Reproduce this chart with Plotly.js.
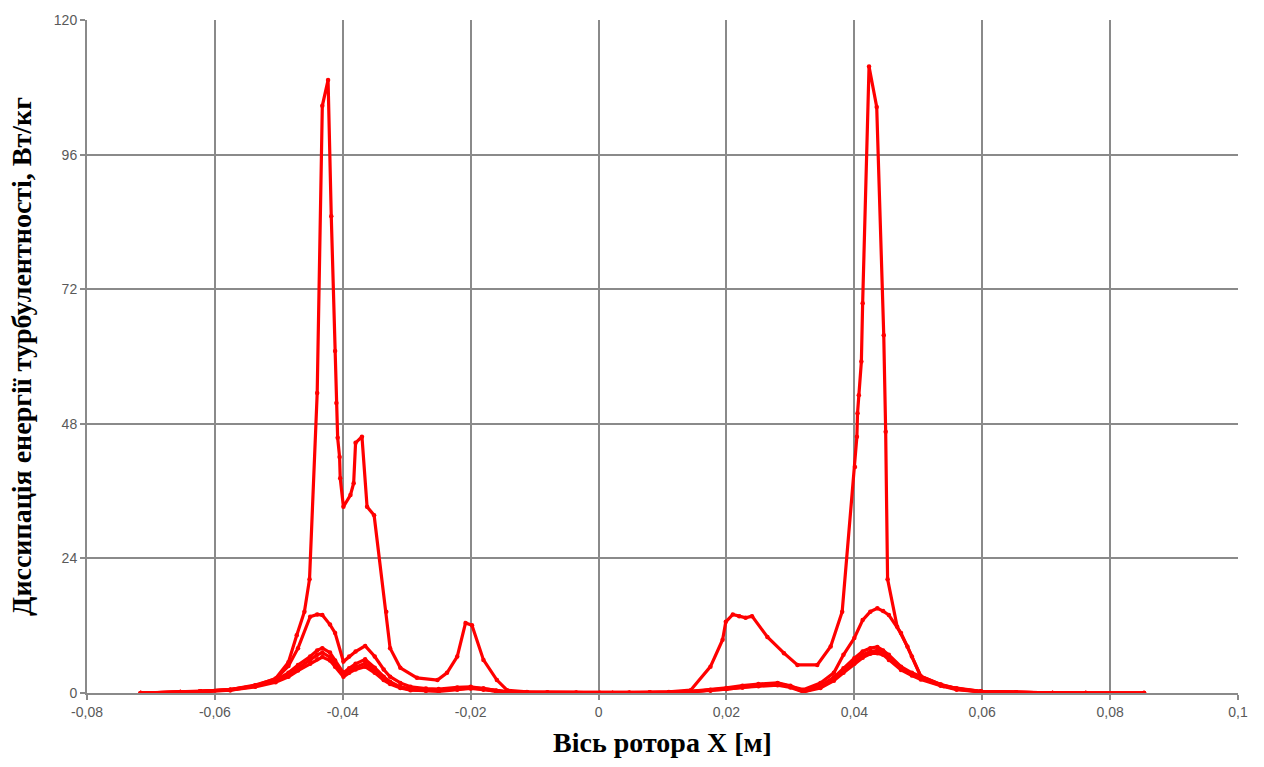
<!DOCTYPE html>
<html>
<head>
<meta charset="utf-8">
<script src="https://cdn.plot.ly/plotly-3.0.1.min.js"></script>
<style>html,body{margin:0;padding:0;background:#fff;}#chart{width:1264px;height:767px;}</style>
</head>
<body>
<div id="chart"></div>
<script>
// Main (highest) profile
const xBig = [-0.0716,-0.0654,-0.0623,-0.0576,-0.0537,-0.0505,-0.0485,-0.0472,-0.0460,-0.0452,-0.0440,-0.0432,-0.0423,-0.0418,-0.0412,-0.0410,-0.0408,-0.0405,-0.0404,-0.0399,-0.0388,-0.0383,-0.0380,-0.0370,-0.0362,-0.0351,-0.0332,-0.0326,-0.0310,-0.0284,-0.0252,-0.0237,-0.0221,-0.0208,-0.0198,-0.0180,-0.0159,-0.0143,-0.0112,-0.0080,-0.0035,0.0002,0.0022,0.0048,0.0080,0.0110,0.0144,0.0175,0.0194,0.0199,0.0210,0.0220,0.0230,0.0240,0.0264,0.0290,0.0311,0.0342,0.0363,0.0381,0.0401,0.0404,0.0405,0.0407,0.0411,0.0413,0.0423,0.0435,0.0446,0.0449,0.0452,0.0467,0.0483,0.0504,0.0540,0.0598,0.0653,0.0710,0.0762,0.0853];
const yBig = [0,0.2,0.3,0.6,1.3,2.6,5.5,10.3,14.5,20.3,53.5,104.7,109.3,85,61,51.7,45.5,42.1,38.3,33.2,35.3,37.4,44.6,45.7,33.2,31.7,14.5,8.0,4.5,2.7,2.3,3.6,6.5,12.5,12.1,5.9,2.3,0.5,0.2,0.1,0.1,0,0,0.1,0.1,0.2,0.5,4.7,9.5,12.7,14.0,13.7,13.4,13.7,10.0,7.1,5.0,5.0,8.3,14.5,40.3,45.7,49.9,53.1,59.1,69.5,111.7,104.5,63.8,46.6,20.3,11.8,8.3,2.9,1.2,0.3,0.1,0,0,0];

// Shared grid for the lower profiles
const xLow = [-0.0716,-0.0654,-0.0623,-0.0576,-0.0537,-0.0505,-0.0485,-0.0470,-0.0451,-0.0440,-0.0432,-0.0420,-0.0412,-0.0399,-0.0390,-0.0380,-0.0365,-0.0350,-0.0336,-0.0326,-0.0310,-0.0294,-0.0270,-0.0250,-0.0221,-0.0200,-0.0180,-0.0160,-0.0143,-0.0112,-0.0080,-0.0035,0.0002,0.0022,0.0048,0.0080,0.0110,0.0144,0.0175,0.0200,0.0225,0.0250,0.0280,0.0300,0.0320,0.0347,0.0368,0.0383,0.0400,0.0413,0.0425,0.0436,0.0445,0.0454,0.0473,0.0490,0.0504,0.0535,0.0560,0.0598,0.0653,0.0710,0.0762,0.0853];
const yMid = [0,0.2,0.3,0.6,1.4,2.5,4.8,8.0,13.6,14.0,13.9,12.2,10.7,5.6,6.5,7.4,8.4,6.5,4.2,2.9,1.8,1.1,0.8,0.7,1.0,1.1,0.8,0.4,0.2,0.1,0.1,0,0,0,0,0.1,0.1,0.3,0.5,0.7,1.0,1.3,1.7,1.2,0.6,1.8,3.6,6.8,9.8,13.0,14.5,15.1,14.6,13.9,10.7,6.5,3.0,1.5,0.8,0.3,0.1,0,0,0];
const yLowA = [0,0.2,0.3,0.6,1.3,2.3,3.6,5.0,6.5,7.6,8.0,7.2,5.8,3.6,4.4,5.2,6.0,4.5,2.9,2.0,1.1,0.7,0.5,0.5,0.8,1.0,0.8,0.4,0.2,0.1,0.1,0,0,0,0,0.1,0.1,0.3,0.6,0.9,1.3,1.6,1.8,1.3,0.3,1.3,2.8,4.4,6.2,7.4,8.0,8.2,7.6,6.8,4.7,3.6,2.9,1.5,0.8,0.2,0.1,0,0,0];
const yLowB = [0,0.2,0.3,0.5,1.2,2.1,3.2,4.4,5.8,6.8,7.2,6.4,5.2,3.2,3.9,4.6,5.3,4.0,2.6,1.8,1.0,0.6,0.4,0.4,0.7,0.9,0.7,0.3,0.2,0.1,0,0,0,0,0,0.1,0.1,0.2,0.5,0.8,1.1,1.4,1.6,1.2,0.2,1.1,2.5,4.0,5.6,6.8,7.4,7.6,7.2,6.3,4.4,3.3,2.6,1.4,0.7,0.2,0.1,0,0,0];
const yLowC = [0,0.1,0.2,0.5,1.1,1.9,2.9,4.0,5.2,6.0,6.4,5.8,4.7,2.9,3.6,4.2,4.7,3.6,2.3,1.6,0.9,0.5,0.4,0.3,0.6,0.8,0.6,0.3,0.1,0.1,0,0,0,0,0,0,0.1,0.2,0.4,0.7,1.0,1.2,1.4,1.0,0.2,0.9,2.2,3.6,5.2,6.3,7.0,7.1,6.8,5.9,4.1,3.1,2.4,1.3,0.6,0.2,0.1,0,0,0];

const xTickVals = [-0.08,-0.06,-0.04,-0.02,0,0.02,0.04,0.06,0.08,0.1];
const xTickText = ['-0,08','-0,06','-0,04','-0,02','0','0,02','0,04','0,06','0,08','0,1'];
const yTickVals = [0,24,48,72,96,120];
const yTickText = ['0','24','48','72','96','120'];

const red = '#ff0000';
function tr(x, y) {
  return {x: x, y: y, type: 'scatter', mode: 'lines+markers',
    line: {color: red, width: 3.2}, marker: {color: red, size: 4.5}, showlegend: false, hoverinfo: 'skip'};
}
const data = [tr(xLow, yLowC), tr(xLow, yLowB), tr(xLow, yLowA), tr(xLow, yMid), tr(xBig, yBig)];

const gridCol = '#8a8a8a';
const layout = {
  width: 1264, height: 767,
  margin: {l: 87, r: 26, t: 20, b: 74},
  paper_bgcolor: '#ffffff', plot_bgcolor: '#ffffff',
  showlegend: false,
  xaxis: {
    range: [-0.08, 0.1], tickmode: 'array', tickvals: xTickVals, ticktext: xTickText,
    showgrid: true, gridcolor: gridCol, gridwidth: 2,
    showline: true, linecolor: gridCol, linewidth: 2,
    zeroline: false, ticks: 'outside', ticklen: 5, tickcolor: gridCol, tickwidth: 2,
    tickfont: {family: 'Liberation Sans, Arial, sans-serif', size: 14, color: '#595959'},
    title: {text: 'Вісь ротора X [м]', standoff: 14,
      font: {family: 'Liberation Serif, Times New Roman, serif', size: 28, color: '#000000', weight: 'bold'}},
    automargin: false
  },
  yaxis: {
    range: [0, 120], tickmode: 'array', tickvals: yTickVals, ticktext: yTickText,
    showgrid: true, gridcolor: gridCol, gridwidth: 2,
    showline: true, linecolor: gridCol, linewidth: 2,
    zeroline: false, ticks: 'outside', ticklen: 5, tickcolor: gridCol, tickwidth: 2,
    tickfont: {family: 'Liberation Sans, Arial, sans-serif', size: 14, color: '#595959'},
    title: {text: 'Диссипація енергії турбулентності, Вт/кг', standoff: 14,
      font: {family: 'Liberation Serif, Times New Roman, serif', size: 28, color: '#000000', weight: 'bold'}},
    automargin: false
  }
};

Plotly.newPlot('chart', data, layout, {staticPlot: true, displayModeBar: false});
</script>
</body>
</html>
